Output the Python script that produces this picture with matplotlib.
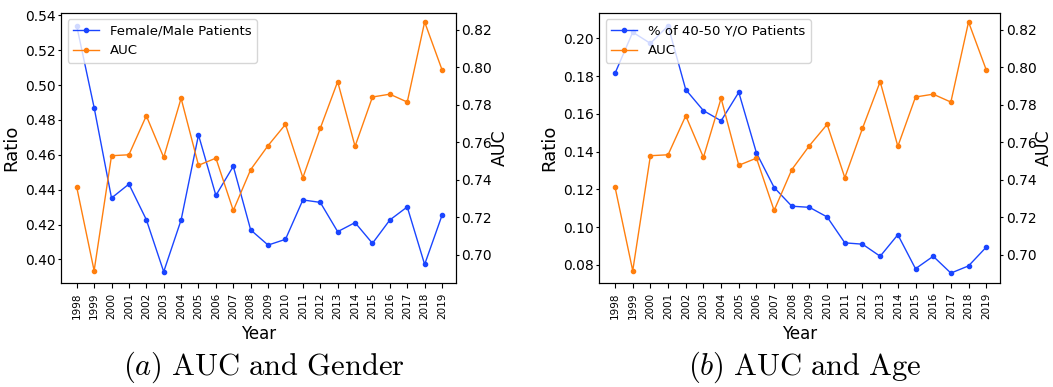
import matplotlib
matplotlib.use("Agg")
from matplotlib import pyplot as plt
import numpy as np

years = [str(y) for y in range(1998, 2020)]

auc = [0.736, 0.6915, 0.7528, 0.7533, 0.7741, 0.7519, 0.7834, 0.7477, 0.7515, 0.7236, 0.7454,
       0.7582, 0.7695, 0.7411, 0.7674, 0.7923, 0.7578, 0.7841, 0.7856, 0.7814, 0.8241, 0.7986]

gender_ratio = [0.5339, 0.4871, 0.4352, 0.4432, 0.4228, 0.3929, 0.4226, 0.4714, 0.4367, 0.4534, 0.4169,
                0.4082, 0.4115, 0.4341, 0.4327, 0.4159, 0.4211, 0.4092, 0.4226, 0.4301, 0.3971, 0.4253]

age_ratio = [0.1815, 0.2032, 0.1973, 0.2066, 0.1728, 0.1617, 0.1563, 0.1714, 0.1393, 0.1210, 0.1111,
             0.1105, 0.1054, 0.0917, 0.0910, 0.0846, 0.0960, 0.0780, 0.0846, 0.0757, 0.0795, 0.0894]

blue = "#1a45ff"
orange = "#ff7f0e"

plt.rcParams["mathtext.fontset"] = "cm"

fig = plt.figure(figsize=(10.53, 3.87), dpi=100)


def panel(rect, ratio, name, ylim, yticks, caption):
    ax = fig.add_axes(rect)
    x = np.arange(len(years))
    l1, = ax.plot(x, ratio, color=blue, marker="o", markersize=3, lw=1, label=name)
    ax.set_ylim(*ylim)
    ax.set_yticks(yticks)
    ax.set_ylabel("Ratio", fontsize=13, labelpad=3)
    ax.set_xlabel("Year", fontsize=12)
    ax.set_xticks(x)
    ax.set_xticklabels(years, rotation=90, fontsize=7.5)
    ax.tick_params(axis="y", labelsize=10, length=2, pad=2)
    ax.set_xlim(-0.9, len(years) - 0.2)
    ax2 = ax.twinx()
    l2, = ax2.plot(x, auc, color=orange, marker="o", markersize=3, lw=1, label="AUC")
    ax2.set_ylim(0.685, 0.829)
    ax2.set_yticks([0.70, 0.72, 0.74, 0.76, 0.78, 0.80, 0.82])
    ax2.set_ylabel("AUC", fontsize=12.5, labelpad=-1)
    ax2.tick_params(axis="y", labelsize=10, length=2, pad=2)
    ax2.legend([l1, l2], [name, "AUC"], loc="upper left", fontsize=9.5)
    cx = rect[0] + rect[2] / 2
    fig.text(cx + 0.005, 0.005, caption, ha="center", va="bottom", fontsize=22)


panel([0.058, 0.269, 0.375, 0.698], gender_ratio, "Female/Male Patients",
      (0.3865, 0.5415), [0.40, 0.42, 0.44, 0.46, 0.48, 0.50, 0.52, 0.54],
      r"$(a)\ \mathrm{AUC\ and\ Gender}$")
panel([0.569, 0.269, 0.381, 0.698], age_ratio, "% of 40-50 Y/O Patients",
      (0.0705, 0.2135), [0.08, 0.10, 0.12, 0.14, 0.16, 0.18, 0.20],
      r"$(b)\ \mathrm{AUC\ and\ Age}$")

fig.savefig("out.png", dpi=100)
